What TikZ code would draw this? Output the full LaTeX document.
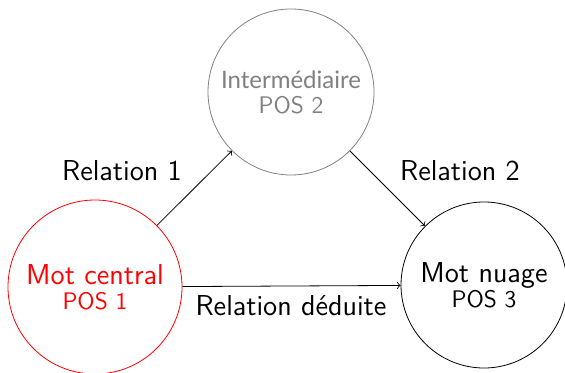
\documentclass[tikz,border=0pt]{standalone}
\usepackage{fontspec}
\newfontfamily\latofont{Lato}
\begin{document}
\begin{tikzpicture}[x=0.5pt,y=-0.5pt,
  word/.style={circle,draw,thin,inner sep=0pt,align=center,font=\sffamily},
  rel/.style={draw,thin,->},
  lbl/.style={font=\sffamily\Large,inner sep=0pt}]
\useasboundingbox (0,0) rectangle (565,373);
% the three words
\node[word,red,minimum size=87pt] (central) at (95,287)
  {{\Large Mot central}\\[0.5pt]{\large POS 1}};
\node[word,gray,minimum size=83pt] (inter) at (291,92)
  {\latofont{\large Intermédiaire}\\[0.5pt]{\large POS 2}};
\node[word,black,minimum size=83pt] (nuage) at (484,285)
  {{\Large Mot nuage}\\[0.5pt]{\large POS 3}};
% relations between them
\draw[rel] (central) -- (inter);
\draw[rel] (inter) -- (nuage);
\draw[rel] (central) -- (nuage);
% relation labels
\node[lbl] (r1) at (122,171) {Relation 1};
\node[lbl] (r2) at (460,171) {Relation 2};
\node[lbl] (rd) at (291,306) {Relation déduite};
\end{tikzpicture}
\end{document}
